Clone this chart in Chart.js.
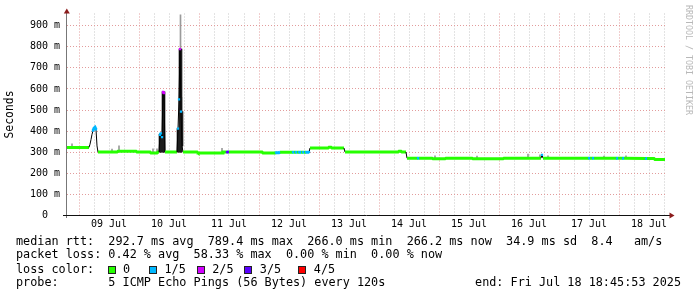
<!DOCTYPE html>
<html>
<head>
<meta charset="utf-8">
<script src="https://cdn.jsdelivr.net/npm/chart.js@4.4.1/dist/chart.umd.min.js"></script>
<style>
    html, body { margin: 0; padding: 0; background: #ffffff; }
    canvas { display: block; }
</style>
</head>
<body>
<canvas id="grafico" width="697" height="297"></canvas>
<script>
// horas contadas desde 08 Jul 00:00
const medianaHoras = [
    19.2, 28.0, 28.4, 28.8, 29.2, 29.6, 30.0, 30.4, 30.8, 31.2, 31.6, 39.2, 39.6, 46.8, 47.2,
    52.4, 52.8, 55.2, 55.6, 56.0, 56.4, 56.8, 57.2, 57.6, 58.0, 58.4, 63.2, 63.6, 64.0, 64.4,
    64.8, 65.2, 65.6, 71.2, 71.6, 81.2, 81.6, 83.2, 84.0, 97.2, 97.6, 102.4, 102.8, 104.0, 104.4,
    109.2, 109.6, 110.0, 110.8, 111.2, 112.0, 112.4, 112.8, 113.6, 114.0, 114.8, 116.0, 116.4, 123.6, 124.0,
    124.8, 125.2, 130.0, 130.4, 151.6, 152.0, 152.8, 153.2, 154.8, 155.2, 159.6, 160.0, 165.2, 165.6, 170.4,
    170.8, 181.2, 181.6, 193.6, 194.0, 208.8, 209.2, 209.6, 228.0, 228.4, 229.6, 230.0, 239.2, 239.6, 241.6,
    242.0, 250.8, 251.2, 254.0, 254.4, 258.4
];
// mediana en ms
const medianaMs = [
    323, 323, 338, 360, 385, 402, 413, 418, 408, 330, 301, 301, 305, 305, 301,
    301, 297, 297, 301, 301, 382, 390, 372, 586, 580, 301, 301, 412, 551, 789,
    493, 330, 301, 301, 297, 297, 301, 301, 301, 301, 297, 297, 298, 298, 300,
    300, 300, 300, 300, 300, 300, 300, 300, 300, 300, 300, 300, 320, 320, 324,
    324, 320, 320, 301, 301, 305, 305, 301, 301, 272, 272, 272, 272, 269, 269,
    272, 272, 269, 269, 272, 272, 288, 272, 272, 272, 272, 272, 271, 271, 271,
    271, 270, 270, 270, 266, 266
];
// pings perdidos de 5
const medianaPerdida = [
    0, 0, 0, 0, 0, 1, 1, 1, 1, 0, 0, 0, 0, 0, 0,
    0, 0, 0, 0, 0, 1, 1, 1, 2, 2, 0, 0, 1, 1, 2,
    1, 0, 0, 0, 0, 0, 0, 3, 0, 0, 0, 0, 1, 1, 0,
    0, 1, 0, 1, 0, 1, 1, 0, 1, 0, 1, 1, 0, 0, 0,
    0, 0, 0, 0, 0, 0, 0, 0, 0, 0, 1, 0, 0, 0, 0,
    0, 0, 0, 0, 0, 0, 1, 0, 1, 0, 1, 0, 1, 0, 1,
    0, 1, 0, 0, 0, 0
];

// humo oscuro (rango de los pings) en los picos
const humoHoras = [56.4, 56.8, 57.6, 58.0, 63.6, 64.4, 64.8, 65.2];
const humoMin   = [300, 300, 300, 300, 300, 300, 300, 330];
const humoMax   = [385, 390, 586, 586, 412, 789, 789, 493];

// humo claro (valores sueltos)
const sueltoHoras = [21.2, 37.2, 40.0, 53.6, 55.2, 64.6, 65.0, 81.2, 166.4, 183.2, 203.6, 208.4, 211.6, 234.0, 242.8];
const sueltoMin   = [322, 302, 302, 298, 298, 789, 480, 301, 270, 270, 272, 272, 272, 272, 270];
const sueltoMax   = [340, 315, 331, 316, 316, 952, 560, 318, 283, 282, 291, 288, 283, 282, 283];

const etiquetasDias = ["09 Jul", "10 Jul", "11 Jul", "12 Jul", "13 Jul", "14 Jul", "15 Jul", "16 Jul", "17 Jul", "18 Jul"];
const marcasY = [0, 50, 100, 150, 200, 250, 300, 350, 400, 450, 500, 550, 600, 650, 700, 750, 800, 850, 900];
const etiquetasPerdida = ["0", "1/5", "2/5", "3/5", "4/5"];
const coloresPerdida = ["#26ff00", "#00b8ff", "#d200ff", "#5a00ff", "#ff0000"];

const FUENTE = "'DejaVu Sans Mono', 'Liberation Mono', monospace";
const GRIS = "#c6c6c6";
const ROJO = "#e29c9c";

function saltoGrande(c){
    return Math.abs(medianaMs[c.p1DataIndex] - medianaMs[c.p0DataIndex]) > 12;
}

const dibujoExtra = {
    id: "dibujoExtra",
    afterDraw(chart){
        const ctx = chart.ctx;
        ctx.save();

        // ejes
        ctx.lineWidth = 1;
        ctx.strokeStyle = "#777777";
        ctx.beginPath();
        ctx.moveTo(66.5, 12);
        ctx.lineTo(66.5, 218);
        ctx.stroke();
        ctx.strokeStyle = "#111111";
        ctx.beginPath();
        ctx.moveTo(63, 215.5);
        ctx.lineTo(670, 215.5);
        ctx.stroke();

        // flechas
        ctx.fillStyle = "#8b1c1c";
        ctx.beginPath();
        ctx.moveTo(66.8, 8.5);
        ctx.lineTo(69.8, 13.5);
        ctx.lineTo(63.8, 13.5);
        ctx.closePath();
        ctx.fill();
        ctx.beginPath();
        ctx.moveTo(674.5, 215.5);
        ctx.lineTo(669.5, 212.5);
        ctx.lineTo(669.5, 218.5);
        ctx.closePath();
        ctx.fill();

        // leyenda
        ctx.fillStyle = "#000000";
        ctx.font = "11.8px " + FUENTE;
        ctx.textBaseline = "middle";
        ctx.textAlign = "left";

        ctx.fillText("median rtt:  292.7 ms avg  789.4 ms max  266.0 ms min  266.2 ms now  34.9 ms sd  8.4   am/s", 16, 241.7);
        ctx.fillText("packet loss: 0.42 % avg  58.33 % max  0.00 % min  0.00 % now", 16, 255);
        ctx.fillText("loss color:", 16, 269.5);
        ctx.fillText("probe:       5 ICMP Echo Pings (56 Bytes) every 120s", 16, 282.8);
        ctx.textAlign = "right";
        ctx.fillText("end: Fri Jul 18 18:45:53 2025", 681, 282.8);
        ctx.textAlign = "left";

        const cajasX = [107.5, 149, 196.7, 244.3, 298.3];
        cajasX.forEach(function(x, i){
            const bx = Math.round(x);
            ctx.fillStyle = coloresPerdida[i];
            ctx.fillRect(bx, 266, 8, 8);
            ctx.strokeStyle = "#222222";
            ctx.strokeRect(bx + 0.5, 266.5, 7, 7);
            ctx.fillStyle = "#000000";
            ctx.fillText(etiquetasPerdida[i], x + 15.5, 269.5);
        });

        // marca de agua
        ctx.translate(688, 5);
        ctx.rotate(Math.PI / 2);
        ctx.font = "8.3px " + FUENTE;
        ctx.fillStyle = "#b8b8b8";
        ctx.textBaseline = "middle";
        ctx.fillText("RRDTOOL / TOBI OETIKER", 0, 0);

        ctx.restore();
    }
};

const ctx = document.getElementById("grafico");

const grafico = new Chart(ctx, {

    type: "line",

    data: {
        datasets: [
            {
                label: "median rtt",
                data: medianaHoras.map(function(h, i){ return { x: h, y: medianaMs[i] }; }),
                borderColor: coloresPerdida[0],
                borderWidth: 3,
                borderCapStyle: "butt",
                tension: 0,
                fill: false,
                order: 0,
                pointStyle: "rect",
                pointRadius: function(c){ return medianaPerdida[c.dataIndex] > 0 ? 1.6 : 0; },
                pointBorderWidth: 0,
                pointBackgroundColor: function(c){ return coloresPerdida[medianaPerdida[c.dataIndex]]; },
                segment: {
                    borderColor: function(c){
                        return saltoGrande(c) ? "#000000" : coloresPerdida[medianaPerdida[c.p0DataIndex]];
                    },
                    borderWidth: function(c){
                        return saltoGrande(c) ? 1 : 3;
                    }
                }
            },
            {
                type: "bar",
                label: "humo",
                data: humoHoras.map(function(h, i){ return { x: h, y: [humoMin[i], humoMax[i]] }; }),
                backgroundColor: "#1e1e1e",
                barThickness: 2,
                grouped: false,
                order: 1
            },
            {
                type: "bar",
                label: "sueltos",
                data: sueltoHoras.map(function(h, i){ return { x: h, y: [sueltoMin[i], sueltoMax[i]] }; }),
                backgroundColor: "#9a9a9a",
                barThickness: 1,
                grouped: false,
                order: 2
            }
        ]
    },

    options: {
        responsive: false,
        animation: false,
        devicePixelRatio: 1,

        layout: {
            padding: { left: 0, right: 30, top: 13.5, bottom: 69.5 }
        },

        scales: {
            x: {
                type: "linear",
                min: 19.2,
                max: 259.2,
                offset: false,
                afterBuildTicks: function(eje){
                    const marcas = [];
                    for(let h = 24; h < 259.2; h += 6){
                        marcas.push({ value: h });
                    }
                    eje.ticks = marcas;
                },
                afterFit: function(eje){
                    eje.height = 12;
                },
                ticks: {
                    autoSkip: false,
                    maxRotation: 0,
                    padding: 3,
                    color: "#000000",
                    font: { family: FUENTE, size: 10 },
                    callback: function(valor){
                        return valor % 24 === 12 ? etiquetasDias[(valor - 36) / 24] : "";
                    }
                },
                grid: {
                    offset: false,
                    drawTicks: false,
                    lineWidth: 1,
                    color: function(c){
                        return c.tick && c.tick.value % 24 === 0 ? ROJO : GRIS;
                    }
                },
                border: { display: false, dash: [1, 2] }
            },
            y: {
                min: 0,
                max: 958,
                afterBuildTicks: function(eje){
                    eje.ticks = marcasY.map(function(v){ return { value: v }; });
                },
                afterFit: function(eje){
                    eje.width = 67;
                },
                ticks: {
                    padding: 7,
                    color: "#000000",
                    font: { family: FUENTE, size: 10 },
                    callback: function(valor){
                        if(valor % 100 !== 0){
                            return "";
                        }
                        return valor === 0 ? "0  " : valor + " m";
                    }
                },
                grid: {
                    drawTicks: false,
                    lineWidth: 1,
                    color: function(c){
                        return c.tick && c.tick.value % 100 === 0 ? ROJO : GRIS;
                    }
                },
                border: { display: false, dash: [1, 2] },
                title: {
                    display: true,
                    text: "Seconds",
                    color: "#000000",
                    font: { family: FUENTE, size: 11.4 },
                    padding: { top: 3.6, bottom: 0 }
                }
            }
        },

        plugins: {
            legend: { display: false },
            tooltip: { enabled: false }
        }
    },

    plugins: [dibujoExtra]

});
</script>
</body>
</html>
